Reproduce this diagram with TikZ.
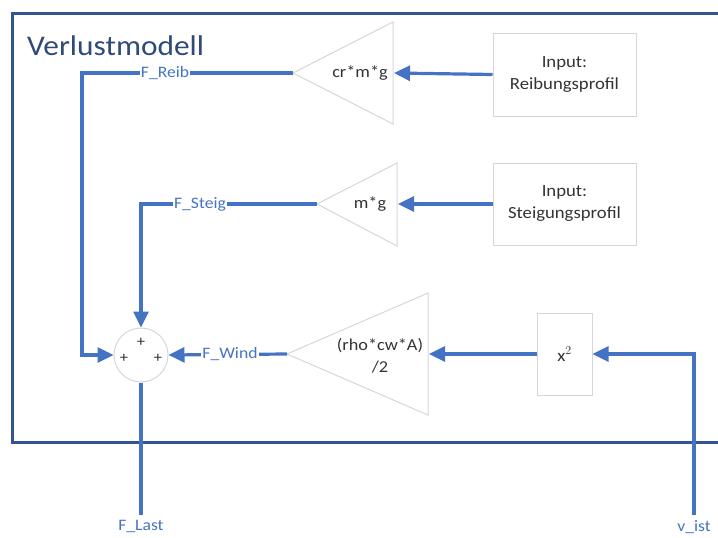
\documentclass[tikz,border=0pt]{standalone}
\usepackage{fontspec}
\setmainfont{Carlito}[FakeStretch=1.1]
\usetikzlibrary{arrows.meta}
\newlength{\du}
\setlength{\du}{1pt}
\definecolor{framecolor}{rgb}{0.200000, 0.330000, 0.570000}
\definecolor{titlecolor}{rgb}{0.180000, 0.290000, 0.470000}
\definecolor{signalcolor}{rgb}{0.270000, 0.450000, 0.770000}
\definecolor{shapecolor}{rgb}{0.840000, 0.840000, 0.840000}
\definecolor{textcolor}{rgb}{0.200000, 0.200000, 0.200000}
\tikzset{
  signal/.style={draw=signalcolor, line width=3.2\du},
  signalarrow/.style={signal, -{Triangle[length=16pt,width=15pt]}},
  signallabel/.style={fill=white, text=signalcolor, inner sep=1\du, font=\fontsize{16}{18}\selectfont},
  gainshape/.style={draw=shapecolor, line width=1\du},
  inputbox/.style={draw=shapecolor, line width=1\du, fill=white, align=center, text=textcolor, font=\fontsize{17}{22}\selectfont},
  gaintext/.style={align=center, text=textcolor, font=\fontsize{16.6}{22}\selectfont},
  sumsign/.style={text=textcolor, inner sep=0pt, font=\fontsize{15}{15}\selectfont}
}
\begin{document}
\begin{tikzpicture}[x=\du, y=-\du]
\useasboundingbox (0,0) rectangle (718,538);
\draw[draw=framecolor, line width=3\du] (722,13)--(12,13)--(12,442)--(722,442);
\node[anchor=west, text=titlecolor, inner sep=0pt, font=\fontsize{28.5}{30}\selectfont] (titel) at (27,46) {Verlustmodell};
\draw[gainshape] (293,73)--(393,22)--(393,124)--cycle;
\draw[gainshape] (317,204)--(397,163)--(397,246)--cycle;
\draw[gainshape] (287,354)--(428,293)--(428,415)--cycle;
\coordinate (reibtip) at (293,73);
\coordinate (reibbase) at (394,73);
\coordinate (steigtip) at (317,204);
\coordinate (steigbase) at (398,204);
\coordinate (windtip) at (287,354);
\coordinate (windbase) at (429,354);
\node[gaintext] (reibgain) at (360,73) {cr*m*g};
\node[gaintext] (steiggain) at (370,204) {m*g};
\node[gaintext] (windgain) at (380,356) {(rho*cw*A)\\/2};
\node[inputbox, minimum width=143\du, minimum height=83\du] (reibinput) at (564.5,74.5) {Input:\\Reibungsprofil};
\node[inputbox, minimum width=143\du, minimum height=82\du] (steiginput) at (564.5,204) {Input:\\Steigungsprofil};
\node[inputbox, minimum width=55\du, minimum height=82\du] (quadrat) at (564.5,354) {x$^{2}$};
\node[circle, draw=shapecolor, line width=1\du, minimum size=54\du, inner sep=0pt] (summe) at (141,355) {};
\node[sumsign] (plusoben) at (141,342) {+};
\node[sumsign] (pluslinks) at (124,358) {+};
\node[sumsign] (plusrechts) at (158,358) {+};
\coordinate (vistend) at (694,515);
\coordinate (flastend) at (141,515);
\node[text=signalcolor, inner sep=1\du, font=\fontsize{16}{18}\selectfont, anchor=north] (flast) at (141,519) {F\_Last};
\node[text=signalcolor, inner sep=1\du, font=\fontsize{16}{18}\selectfont, anchor=north] (vist) at (694,519) {v\_ist};
\draw[signalarrow] (reibinput.west) -- (reibbase);
\draw[signalarrow] (steiginput.west) -- (steigbase);
\draw[signalarrow] (quadrat.west) -- (windbase);
\draw[signalarrow] (vistend) |- (quadrat.east);
\draw[signalarrow] (reibtip) -| (82,355) -- (summe.west);
\draw[signalarrow] (steigtip) -| (summe.north);
\draw[signalarrow] (windtip) -- (summe.east);
\draw[signal] (summe.south) -- (flastend);
\node[signallabel] (freib) at (165,73) {F\_Reib};
\node[signallabel] (fsteig) at (200,204) {F\_Steig};
\node[signallabel] (fwind) at (230,354) {F\_Wind};
\end{tikzpicture}
\end{document}
